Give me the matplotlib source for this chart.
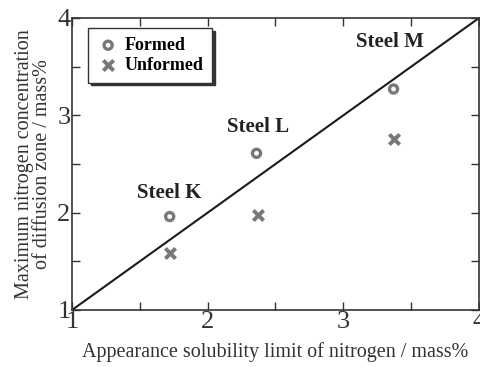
import numpy as np
import matplotlib.pyplot as plt
from matplotlib.ticker import MultipleLocator

plt.rcParams['font.family'] = ['Liberation Serif', 'DejaVu Serif']

# data
steels = ['Steel K', 'Steel L', 'Steel M']
formed_x = [1.72, 2.36, 3.37]
formed_y = [1.96, 2.61, 3.27]
unformed_x = [1.72, 2.37, 3.37]
unformed_y = [1.59, 1.98, 2.76]
label_x = [1.72, 2.37, 3.34]
label_y = [2.20, 2.88, 3.75]

grey = '#787878'

fig = plt.figure(figsize=(4.81, 3.67), dpi=100)
ax = fig.add_axes([72/481, 1 - 310/367, 407/481, 292/367])

ax.plot([1, 4], [1, 4], color='#1a1a1a', lw=1.5, zorder=1)
ax.scatter(formed_x, formed_y, s=34, facecolors='none', edgecolors=grey,
           linewidths=2.4, marker='o', label='Formed', zorder=3)
ax.scatter(unformed_x, unformed_y, s=55, color=grey, linewidths=2.8,
           marker='x', label='Unformed', zorder=3)

for s, lx, ly in zip(steels, label_x, label_y):
    ax.text(lx, ly, s, ha='center', va='center', fontsize=15,
            fontweight='bold', color='#222222')

ax.set_xlim(1, 4)
ax.set_ylim(1, 4)
ax.xaxis.set_major_locator(MultipleLocator(1))
ax.yaxis.set_major_locator(MultipleLocator(1))
ax.xaxis.set_minor_locator(MultipleLocator(0.5))
ax.yaxis.set_minor_locator(MultipleLocator(0.5))
ax.tick_params(which='both', direction='in', top=True, right=True,
               labelsize=19, color='#333333', width=1, labelcolor='#333333')
ax.tick_params(which='major', length=6, pad=1)
ax.tick_params(which='minor', length=6)
for sp in ax.spines.values():
    sp.set_color('#333333')
    sp.set_linewidth(1.2)

ax.set_xlabel('Appearance solubility limit of nitrogen / mass%',
              fontsize=14.5, color='#333333', labelpad=6)
ax.set_ylabel('Maximum nitrogen concentration\nof diffusion zone / mass%',
              fontsize=14.5, color='#333333', linespacing=0.9, labelpad=4)

leg = ax.legend(loc='upper left', bbox_to_anchor=(0.04, 0.966), frameon=True,
                fancybox=False, shadow={'color': '#333333', 'alpha': 1},
                prop={'weight': 'bold', 'size': 13}, handletextpad=0.3,
                borderpad=0.5, labelspacing=0.15, handlelength=1.2,
                borderaxespad=0)
leg.get_frame().set_edgecolor('#333333')
leg.get_frame().set_linewidth(1)

fig.savefig('out.png', dpi=100)
